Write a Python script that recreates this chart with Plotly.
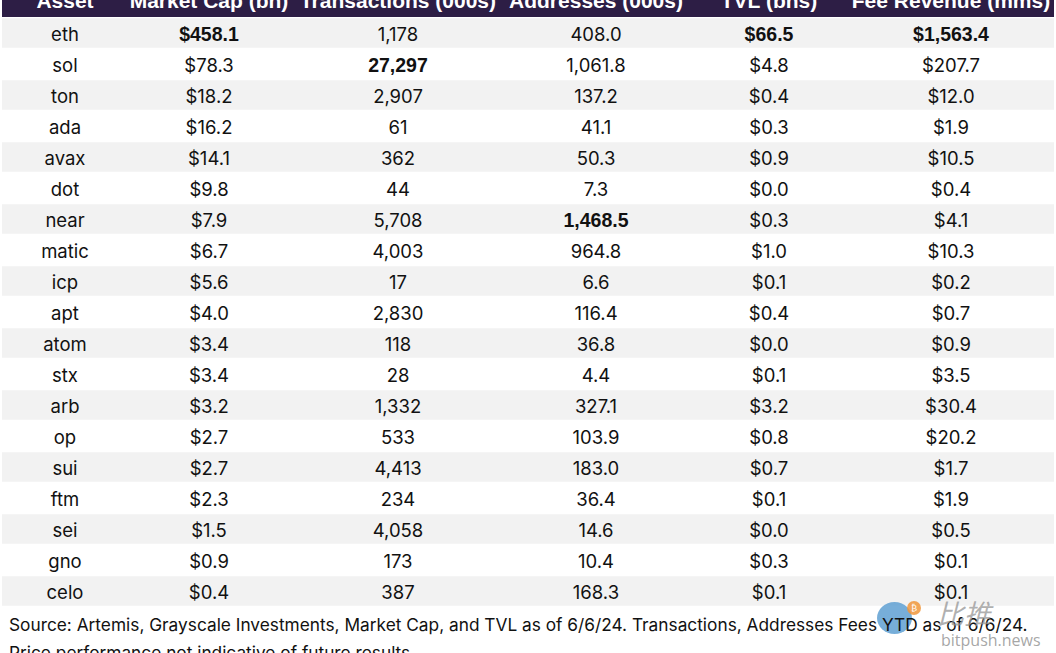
import plotly.graph_objects as go

# ---- data ----
assets = ["eth", "sol", "ton", "ada", "avax", "dot", "near", "matic", "icp", "apt",
          "atom", "stx", "arb", "op", "sui", "ftm", "sei", "gno", "celo"]
market_cap_bn = [458.1, 78.3, 18.2, 16.2, 14.1, 9.8, 7.9, 6.7, 5.6, 4.0,
                 3.4, 3.4, 3.2, 2.7, 2.7, 2.3, 1.5, 0.9, 0.4]
transactions_000s = [1178, 27297, 2907, 61, 362, 44, 5708, 4003, 17, 2830,
                     118, 28, 1332, 533, 4413, 234, 4058, 173, 387]
addresses_000s = [408.0, 1061.8, 137.2, 41.1, 50.3, 7.3, 1468.5, 964.8, 6.6, 116.4,
                  36.8, 4.4, 327.1, 103.9, 183.0, 36.4, 14.6, 10.4, 168.3]
tvl_bns = [66.5, 4.8, 0.4, 0.3, 0.9, 0.0, 0.3, 1.0, 0.1, 0.4,
           0.0, 0.1, 3.2, 0.8, 0.7, 0.1, 0.0, 0.3, 0.1]
fee_revenue_mms = [1563.4, 207.7, 12.0, 1.9, 10.5, 0.4, 4.1, 10.3, 0.2, 0.7,
                   0.9, 3.5, 30.4, 20.2, 1.7, 1.9, 0.5, 0.1, 0.1]
headers = ["Asset", "Market Cap (bn)", "Transactions (000s)", "Addresses (000s)",
           "TVL (bns)", "Fee Revenue (mms)"]
footer_lines = [
    "Source: Artemis, Grayscale Investments, Market Cap, and TVL as of 6/6/24. Transactions, Addresses Fees YTD as of 6/6/24.",
    "Price performance not indicative of future results.",
]

# ---- layout constants ----
W, H = 1056, 653
ROW_PX = 31.0
ROW0_PX = 34.0
TEXT_DY = 2.0 / ROW_PX
COL_X = [65, 209, 398, 596, 769, 951]
HEADER_BG = "#2d1e45"
STRIPE = "#f2f2f2"
REG_FONT = "Inter"
BOLD_FONT = "Liberation Sans"

n = len(assets)
rows = list(range(n))


def py(px):
    return (px - ROW0_PX) / ROW_PX


def fmt_cols():
    cols = [(list(assets), [False] * n)]

    def mk(vals, f):
        mx = max(vals)
        return ([f(v) for v in vals], [v == mx for v in vals])
    cols.append(mk(market_cap_bn, lambda v: f"${v:,.1f}"))
    cols.append(mk(transactions_000s, lambda v: f"{v:,}"))
    cols.append(mk(addresses_000s, lambda v: f"{v:,.1f}"))
    cols.append(mk(tvl_bns, lambda v: f"${v:,.1f}"))
    cols.append(mk(fee_revenue_mms, lambda v: f"${v:,.1f}"))
    return cols


fig = go.Figure()

for j, (labels, bold) in enumerate(fmt_cols()):
    txt = [f"<b>{t}</b>" if b else t for t, b in zip(labels, bold)]
    fams = [BOLD_FONT if b else REG_FONT for b in bold]
    sizes = [19.5 if b else 18.5 for b in bold]
    fig.add_trace(go.Scatter(
        x=[COL_X[j]] * n, y=[r + TEXT_DY for r in rows], text=txt, mode="text",
        textposition="middle center",
        textfont=dict(family=fams, size=sizes, color="#111111"),
        hoverinfo="skip", showlegend=False, cliponaxis=False,
    ))

# header text
fig.add_trace(go.Scatter(
    x=COL_X, y=[py(3)] * len(headers), text=[f"<b>{h}</b>" for h in headers],
    mode="text", textposition="middle center",
    textfont=dict(family=BOLD_FONT, size=21, color="white"),
    hoverinfo="skip", showlegend=False, cliponaxis=False,
))

shapes = []
shapes.append(dict(type="rect", xref="x", yref="y", x0=2, x1=1054, y0=-2.0, y1=py(17),
                   fillcolor=HEADER_BG, line=dict(width=0), layer="below"))
for i in rows:
    if i % 2 == 0:
        shapes.append(dict(type="rect", xref="x", yref="y", x0=2, x1=1054,
                           y0=i - 0.505, y1=i + 0.445,
                           fillcolor=STRIPE, line=dict(width=0), layer="below"))

# watermark decoration (bitpush)
shapes.append(dict(type="circle", xref="x", yref="y",
                   x0=877, x1=912, y0=py(602), y1=py(634),
                   fillcolor="rgba(95,160,210,0.85)", line=dict(width=0), layer="above"))
shapes.append(dict(type="circle", xref="x", yref="y",
                   x0=907, x1=921, y0=py(601), y1=py(615),
                   fillcolor="rgba(240,150,60,0.85)", line=dict(width=0), layer="above"))

annotations = []
for k, line in enumerate(footer_lines):
    annotations.append(dict(
        x=7, y=py(624 + 28 * k), xref="x", yref="y",
        text=line, showarrow=False, xanchor="left", yanchor="middle",
        font=dict(family=REG_FONT, size=17.3, color="#111111"),
    ))
annotations.append(dict(x=965, y=py(612), xref="x", yref="y",
                        text="<i>比推</i>", showarrow=False, xanchor="center", yanchor="middle",
                        font=dict(family="Noto Sans CJK SC", size=27, color="rgba(150,150,150,0.75)")))
annotations.append(dict(x=991, y=py(640), xref="x", yref="y",
                        text="bitpush.news", showarrow=False, xanchor="center", yanchor="middle",
                        font=dict(family="Open Sans", size=16, color="rgba(150,150,150,0.85)")))
annotations.append(dict(x=914, y=py(608), xref="x", yref="y",
                        text="₿", showarrow=False, xanchor="center", yanchor="middle",
                        font=dict(family="DejaVu Sans", size=9, color="white")))

fig.update_layout(
    width=W, height=H, autosize=False,
    margin=dict(l=0, r=0, t=0, b=0),
    paper_bgcolor="white", plot_bgcolor="white",
    xaxis=dict(range=[0, W], visible=False, fixedrange=True),
    yaxis=dict(range=[py(H), py(0)], visible=False, fixedrange=True),
    shapes=shapes, annotations=annotations,
)

fig.write_html("out.html", config={"displayModeBar": False},
               post_script="document.body.style.margin='0';document.body.style.overflow='hidden';")
